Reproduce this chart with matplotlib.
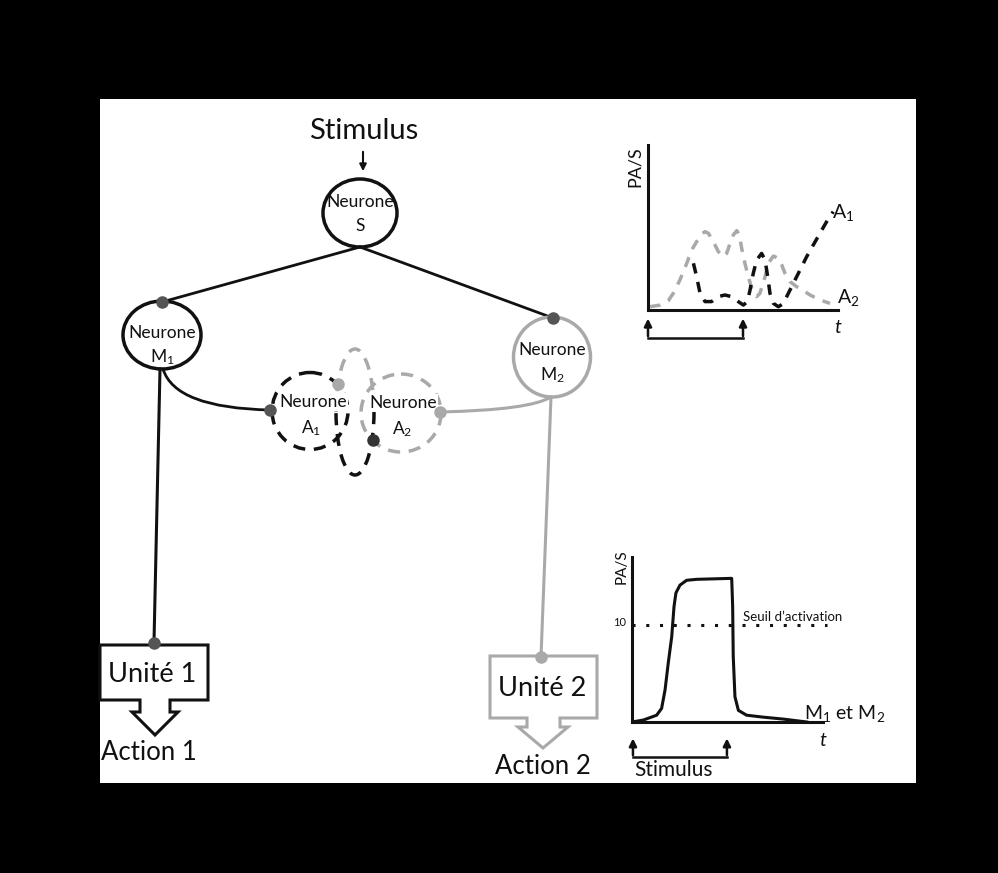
import matplotlib
matplotlib.use("Agg")
import matplotlib.pyplot as plt
from matplotlib.patches import Ellipse, Rectangle, Polygon, PathPatch, Arc
from matplotlib.path import Path

plt.rcParams['font.family'] = ['Lato', 'DejaVu Sans']
plt.rcParams['mathtext.default'] = 'regular'

# ---------------- data ----------------
# Inset 1 : activity of A1 / A2 (PA/S, arbitrary units) vs time
a2_t = [1.1, 6.3, 10.7, 13.3, 16.8, 20.4, 23, 25.6, 28.2, 30, 31.8, 34.4, 37, 39.6, 41.4, 43.2,
        44.9, 46.7, 48.1, 49.3, 51, 52.8, 54.6, 57.2, 58.9, 61.6, 63.3, 66, 68.6, 70.4, 72.1,
        74.7, 78.3, 81.8, 85.3, 90.5, 95.8]
a2_v = [2, 3, 5.7, 10.1, 18.2, 28.3, 36.4, 41.4, 46, 47.5, 46.5, 41.4, 35.4, 32.3, 34.3, 40.4,
        45.5, 48.1, 45.5, 37.4, 28.3, 20.2, 13.1, 8.1, 10.1, 20.2, 28.3, 32.7, 31.3, 27.3, 22.2,
        17.2, 14.1, 11.7, 9.1, 6.1, 4]
a1_t = [23.9, 25.6, 27.4, 30, 33.5, 37, 40.5, 44, 47.5, 50.2, 52.3, 53.7, 55.4, 57.2, 59.8,
        61.6, 63, 64.2, 66, 68.6, 70.9, 73, 76.5, 80, 83.5, 87, 90.5, 94, 97.5]
a1_v = [28.3, 20.2, 10.1, 5.1, 5.1, 8.1, 9.1, 8.1, 5.1, 3, 5.1, 12.1, 22.2, 30.3, 34.3,
        30.3, 20.2, 10.1, 4, 2, 3.6, 8.1, 16.2, 24.2, 32.3, 39.4, 46.5, 53.5, 59.6]
stim1_on, stim1_off = 0, 50

# Inset 2 : activity of M1 and M2 (PA/S) vs time
m_t = [0, 5.9, 12.9, 15.5, 17.3, 19, 20.8, 22, 23, 25.1, 28.6, 33.9, 52.2, 52.7, 53,
       53.9, 55.7, 60, 68.7, 79.2, 91.5]
m_v = [0, 0.2, 0.7, 1.4, 3.3, 6.1, 8.8, 11.9, 13.3, 14.1, 14.6, 14.7, 14.8, 11.9, 6.8,
       2.6, 1.2, 0.7, 0.5, 0.3, 0]
seuil = 10
stim2_on, stim2_off = 0.5, 49.7

BLACK = '#111111'
GRAY = '#a9a9a9'
DOTD = '#555555'

fig = plt.figure(figsize=(9.98, 8.73), dpi=100, facecolor='black')
ax = fig.add_axes([0, 0, 1, 1])
ax.set_xlim(0, 998)
ax.set_ylim(873, 0)
ax.axis('off')
ax.add_patch(Rectangle((100, 99), 816, 684, facecolor='white', edgecolor='none', zorder=0))

# ---- Stimulus and neurone S ----
ax.text(364, 131, 'Stimulus', fontsize=21, ha='center', va='center', color=BLACK)
ax.annotate('', xy=(363, 174), xytext=(363, 149),
            arrowprops=dict(arrowstyle='-|>', color=BLACK, lw=1.5, mutation_scale=10))
ax.add_patch(Ellipse((360, 213), 74, 68, fill=False, ec=BLACK, lw=2.5, zorder=3))
ax.text(360, 202, 'Neurone', fontsize=12.5, ha='center', va='center', color=BLACK)
ax.text(360, 226, 'S', fontsize=12.5, ha='center', va='center', color=BLACK)

# S -> M1 , S -> M2
ax.plot([360, 162], [247, 302], color=BLACK, lw=2)
ax.plot([360, 553], [247, 318], color=BLACK, lw=2)

# ---- Neurone M1 ----
ax.add_patch(Ellipse((162, 335), 78, 68, fill=False, ec=BLACK, lw=2.5, zorder=3))
ax.text(162, 333, 'Neurone', fontsize=12.5, ha='center', va='center', color=BLACK)
ax.text(162, 357, 'M$_1$', fontsize=12.5, ha='center', va='center', color=BLACK)
ax.plot([162], [302], 'o', color=DOTD, ms=8, zorder=5)

# ---- Neurone M2 ----
ax.add_patch(Ellipse((552, 357), 77, 80, fill=False, ec=GRAY, lw=2.5, zorder=3))
ax.text(552, 350, 'Neurone', fontsize=12.5, ha='center', va='center', color=BLACK)
ax.text(552, 375, 'M$_2$', fontsize=12.5, ha='center', va='center', color=BLACK)
ax.plot([553], [318], 'o', color=DOTD, ms=8, zorder=5)

# ---- M1 axon to Unité 1 ----
ax.plot([160, 154], [369, 642], color=BLACK, lw=2.2)
p = Path([(163, 369), (175, 408), (270, 410)], [Path.MOVETO, Path.CURVE3, Path.CURVE3])
ax.add_patch(PathPatch(p, fill=False, ec=BLACK, lw=2))

# ---- M2 axon to Unité 2 ----
ax.plot([551, 541], [397, 657], color=GRAY, lw=2.2)
p = Path([(440, 412), (530, 410), (551, 397)], [Path.MOVETO, Path.CURVE3, Path.CURVE3])
ax.add_patch(PathPatch(p, fill=False, ec=GRAY, lw=2.2))

# ---- Neurones A1 / A2 ----
ax.add_patch(Ellipse((310, 411), 76, 77, fill=False, ec=BLACK, lw=2.5, ls=(0, (3.5, 2.5)), zorder=3))
ax.add_patch(Ellipse((401, 413), 80, 78, fill=False, ec=GRAY, lw=2.5, ls=(0, (3.5, 2.5)), zorder=3))
ax.add_patch(Arc((355, 412), 38, 126, theta1=180, theta2=360, ec=GRAY, lw=2.5, ls=(0, (3.5, 2.5)), zorder=3))
ax.add_patch(Arc((355, 412), 38, 126, theta1=0, theta2=180, ec=BLACK, lw=2.5, ls=(0, (3.5, 2.5)), zorder=3))
ax.text(313, 402, 'Neurone', fontsize=12.5, ha='center', va='center', color=BLACK, zorder=4,
        bbox=dict(fc='white', ec='none', pad=0.5))
ax.text(311, 428, 'A$_1$', fontsize=12.5, ha='center', va='center', color=BLACK, zorder=4)
ax.text(403, 403, 'Neurone', fontsize=12.5, ha='center', va='center', color=BLACK, zorder=4,
        bbox=dict(fc='white', ec='none', pad=0.5))
ax.text(402, 429, 'A$_2$', fontsize=12.5, ha='center', va='center', color=BLACK, zorder=4)
ax.plot([270], [410], 'o', color=DOTD, ms=8, zorder=5)
ax.plot([338], [384], 'o', color=GRAY, ms=8, zorder=5)
ax.plot([373], [440], 'o', color='#333333', ms=8, zorder=5)
ax.plot([440], [412], 'o', color=GRAY, ms=8, zorder=5)

# ---- Unité 1 ----
u1 = [(100, 645), (208, 645), (208, 700), (170, 700), (170, 712), (178, 712), (155, 735),
      (132, 712), (140, 712), (140, 700), (100, 700)]
ax.add_patch(Polygon(u1, closed=True, fc='white', ec=BLACK, lw=2.2, zorder=3))
ax.plot([154], [643], 'o', color=DOTD, ms=8, zorder=5)
ax.text(152, 674, 'Unité 1', fontsize=19.5, ha='center', va='center', color=BLACK, zorder=4)
ax.text(149, 752, 'Action 1', fontsize=18.5, ha='center', va='center', color=BLACK)

# ---- Unité 2 ----
u2 = [(490, 656), (597, 656), (597, 718), (560, 718), (560, 727), (568, 727), (543, 748),
      (518, 727), (527, 727), (527, 718), (490, 718)]
ax.add_patch(Polygon(u2, closed=True, fc='white', ec=GRAY, lw=2.2, zorder=3))
ax.plot([541], [657], 'o', color=GRAY, ms=8, zorder=5)
ax.text(542, 688, 'Unité 2', fontsize=19.5, ha='center', va='center', color=BLACK, zorder=4)
ax.text(543, 767, 'Action 2', fontsize=18.5, ha='center', va='center', color=BLACK)

# ---------------- inset 1 : A1 / A2 ----------------
ax1 = fig.add_axes([648 / 998, (873 - 310) / 873, 190 / 998, 165 / 873])
ax1.set_xlim(0, 100)
ax1.set_ylim(0, 100)
ax1.patch.set_alpha(0)
for s in ['top', 'right']:
    ax1.spines[s].set_visible(False)
for s in ['left', 'bottom']:
    ax1.spines[s].set_linewidth(2.2)
    ax1.spines[s].set_color(BLACK)
ax1.set_xticks([])
ax1.set_yticks([])
ax1.plot(a2_t, a2_v, color=GRAY, lw=2.5, ls=(0, (3, 2.5)))
ax1.plot(a1_t, a1_v, color=BLACK, lw=2.5, ls=(0, (3, 2.5)))
ax1.text(-6.8, 87, 'PA/S', rotation=90, fontsize=13, ha='center', va='center', color=BLACK)
ax1.text(97, 59, 'A$_1$', fontsize=14, ha='left', va='center', color=BLACK)
ax1.text(99.5, 7.5, 'A$_2$', fontsize=14, ha='left', va='center', color=BLACK)
ax1.text(100, -10.5, 't', fontsize=14, style='italic', ha='center', va='center', color=BLACK, clip_on=False)
for tt in (stim1_on, stim1_off):
    ax1.annotate('', xy=(tt, -3.5), xytext=(tt, -17.5), annotation_clip=False,
                 arrowprops=dict(arrowstyle='-|>', color=BLACK, lw=1.8, mutation_scale=11))
ax1.plot([stim1_on, stim1_off], [-17, -17], color=BLACK, lw=1.8, clip_on=False)

# ---------------- inset 2 : M1 and M2 ----------------
ax2 = fig.add_axes([632 / 998, (873 - 722) / 873, 191 / 998, 165 / 873])
ax2.set_xlim(0, 100)
ax2.set_ylim(0, 17)
ax2.patch.set_alpha(0)
for s in ['top', 'right']:
    ax2.spines[s].set_visible(False)
for s in ['left', 'bottom']:
    ax2.spines[s].set_linewidth(2.2)
    ax2.spines[s].set_color(BLACK)
ax2.set_xticks([])
ax2.set_yticks([])
ax2.plot(m_t, m_v, color=BLACK, lw=2.2, solid_joinstyle='round')
ax2.plot([0, 102], [seuil, seuil], color=BLACK, lw=2.2, ls=(0, (1, 3.5)), clip_on=False)
ax2.text(-3, seuil + 0.3, '10', fontsize=8, ha='right', va='center', color=BLACK)
ax2.text(58, seuil + 0.8, 'Seuil d’activation', fontsize=9.5, ha='left', va='center', color=BLACK)
ax2.text(-5.2, 16, 'PA/S', rotation=90, fontsize=11, ha='center', va='center', color=BLACK)
ax2.text(90, 0.9, 'M$_1$ et M$_2$', fontsize=14, ha='left', va='center', color=BLACK, clip_on=False)
ax2.text(100, -1.9, 't', fontsize=14, style='italic', ha='center', va='center', color=BLACK, clip_on=False)
for tt in (stim2_on, stim2_off):
    ax2.annotate('', xy=(tt, -1.4), xytext=(tt, -3.7), annotation_clip=False,
                 arrowprops=dict(arrowstyle='-|>', color=BLACK, lw=1.8, mutation_scale=11))
ax2.plot([stim2_on, stim2_off], [-3.6, -3.6], color=BLACK, lw=1.8, clip_on=False)
ax2.text(21.5, -4.9, 'Stimulus', fontsize=15, ha='center', va='center', color=BLACK, clip_on=False)

fig.savefig('out.png', dpi=100, facecolor='black')
